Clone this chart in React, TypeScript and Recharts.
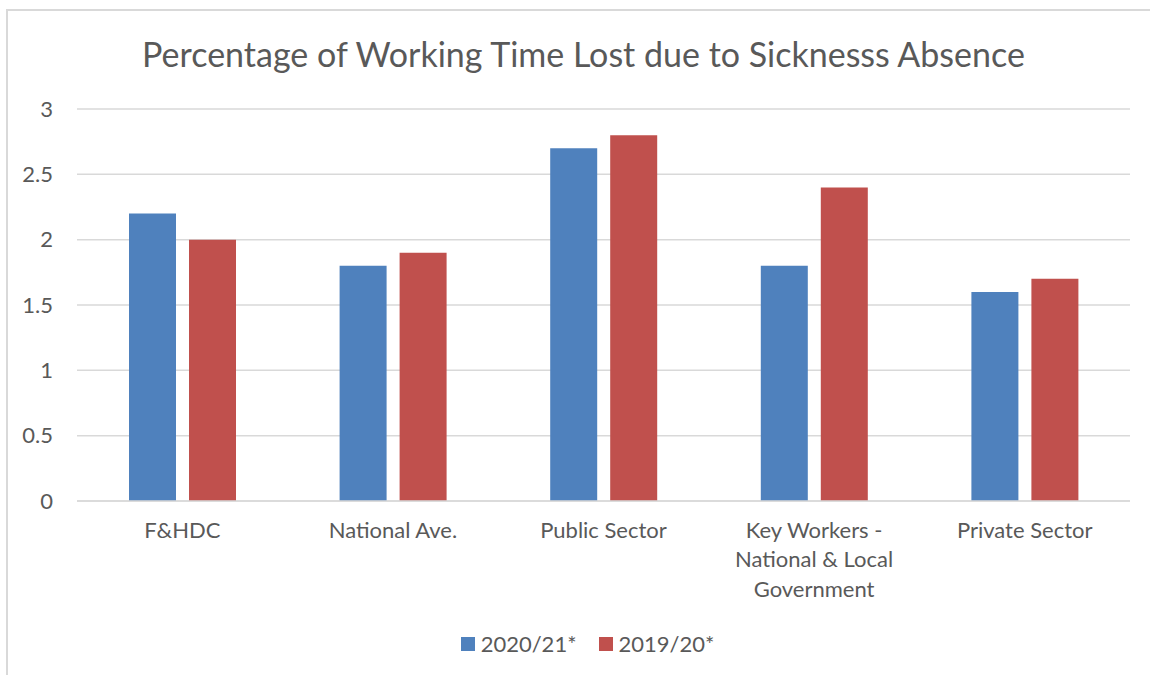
import { BarChart, Bar, XAxis, YAxis, CartesianGrid, Text } from "recharts";

const categories = [
  "F&HDC",
  "National Ave.",
  "Public Sector",
  "Key Workers - National & Local Government",
  "Private Sector",
];
const values2021 = [2.2, 1.8, 2.7, 1.8, 1.6];
const values1920 = [2.0, 1.9, 2.8, 2.4, 1.7];
const yTicks = [0, 0.5, 1, 1.5, 2, 2.5, 3];

const series = [
  { key: "y2021", name: "2020/21*", color: "#4f81bd" },
  { key: "y1920", name: "2019/20*", color: "#c0504d" },
];

const rows = categories.map((name, i) => ({
  name,
  y2021: values2021[i],
  y1920: values1920[i],
}));

const FONT = "Lato, 'Open Sans', sans-serif";
const TEXT = "#595959";

// category labels wrap like Excel does (Key Workers label goes to 3 lines)
function CategoryTick(props: any) {
  const { x, y, payload } = props;
  return (
    <Text
      x={x}
      y={y + 13}
      width={145}
      textAnchor="middle"
      verticalAnchor="start"
      lineHeight={29.5}
      fill={TEXT}
      fontSize={22}
      fontFamily={FONT}
      style={{ fontSize: 22, fontFamily: FONT }}
    >
      {payload.value}
    </Text>
  );
}

export default function App() {
  return (
    <div style={{ position: "absolute", left: 0, top: 0, width: 1150, height: 675, overflow: "hidden", background: "#fff" }}>
      <div
        style={{
          position: "absolute",
          left: 6,
          top: 9,
          width: 1200,
          height: 700,
          border: "2px solid #d9d9d9",
          boxSizing: "border-box",
        }}
      />
      <div
        style={{
          position: "absolute",
          left: 0,
          top: 33,
          width: 1167,
          textAlign: "center",
          fontFamily: FONT,
          fontSize: 34,
          color: TEXT,
          lineHeight: "42px",
        }}
      >
        Percentage of Working Time Lost due to Sicknesss Absence
      </div>
      <div style={{ position: "absolute", left: 0, top: 0 }}>
        <BarChart
          width={1150}
          height={675}
          data={rows}
          margin={{ top: 109, right: 20, bottom: 173, left: 15 }}
          barGap={13}
        >
          <CartesianGrid vertical={false} stroke="#d9d9d9" strokeWidth={1.5} />
          <XAxis
            dataKey="name"
            interval={0}
            height={1}
            tickLine={false}
            axisLine={{ stroke: "#d9d9d9", strokeWidth: 1.5 }}
            tick={<CategoryTick />}
          />
          <YAxis
            domain={[0, 3]}
            ticks={yTicks}
            width={62}
            tickLine={false}
            axisLine={false}
            tickMargin={18}
            tick={{ fill: TEXT, fontSize: 22, fontFamily: FONT }}
          />
          {series.map((s) => (
            <Bar key={s.key} dataKey={s.key} name={s.name} fill={s.color} barSize={47} isAnimationActive={false} />
          ))}
        </BarChart>
      </div>
      <div
        style={{
          position: "absolute",
          left: 0,
          top: 630,
          width: 1175,
          display: "flex",
          justifyContent: "center",
          alignItems: "center",
          fontFamily: FONT,
          fontSize: 22,
          color: TEXT,
          lineHeight: "28px",
        }}
      >
        {series.map((s) => (
          <span key={s.key} style={{ display: "inline-flex", alignItems: "center", margin: "0 11px" }}>
            <span style={{ display: "inline-block", width: 14, height: 14, background: s.color, marginRight: 6 }} />
            {s.name}
          </span>
        ))}
      </div>
    </div>
  );
}
